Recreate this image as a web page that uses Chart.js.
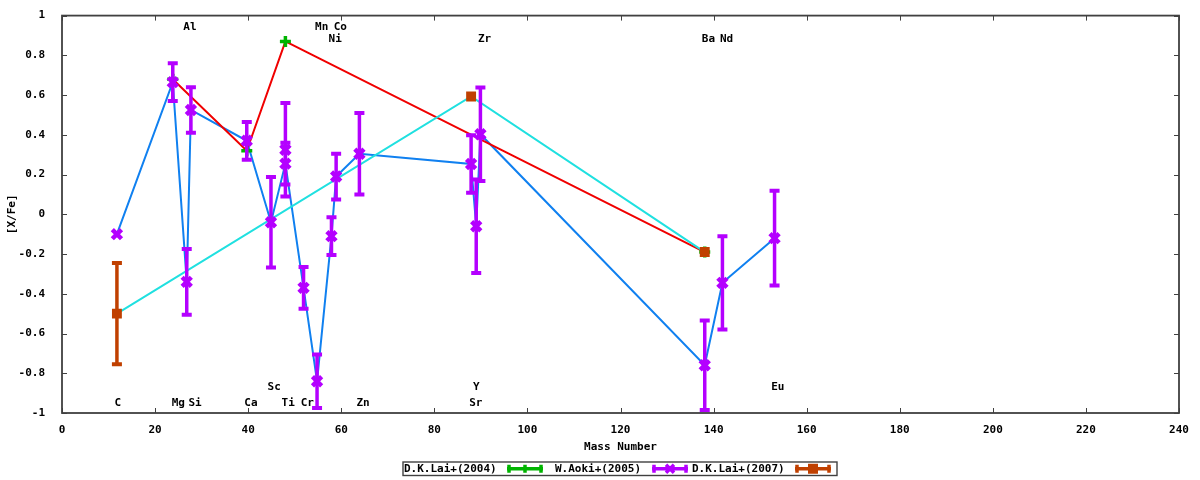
<!DOCTYPE html>
<html>
<head>
<meta charset="utf-8">
<script src="https://cdn.jsdelivr.net/npm/chart.js@4.4.1/dist/chart.umd.min.js"></script>
<style>
  html, body { margin: 0; padding: 0; background: #fff; }
  #wrap { width: 1200px; height: 480px; }
</style>
</head>
<body>
<div id="wrap"><canvas id="abund" width="1200" height="480"></canvas></div>
<script>
// W.Aoki+(2005): mass number, [X/Fe], error
const aokiMass = [11.8, 23.8, 26.8, 27.7, 39.7, 44.9, 48.0, 48.0, 51.9, 54.8, 57.9, 58.9, 63.9, 87.9, 89.0, 89.9, 138.1, 141.9, 153.1]
const aokiVal  = [-0.10, 0.665, -0.34, 0.525, 0.37, -0.04, 0.325, 0.255, -0.37, -0.84, -0.11, 0.19, 0.305, 0.253, -0.06, 0.403, -0.76, -0.345, -0.12]
const aokiErr  = [0, 0.10, 0.17, 0.12, 0.10, 0.233, 0.24, 0.11, 0.11, 0.14, 0.10, 0.12, 0.21, 0.15, 0.24, 0.24, 0.23, 0.24, 0.243]
// the blue line skips the first Ti entry
const aokiOffLine = [6]

// D.K.Lai+(2004)
const lai04Mass = [23.8, 39.7, 48.0, 138.1]
const lai04Val  = [0.68, 0.32, 0.87, -0.19]
const lai04Err  = [0, 0, 0, 0]

// D.K.Lai+(2007)
const lai07Mass = [11.8, 87.9, 138.1]
const lai07Val  = [-0.50, 0.593, -0.19]
const lai07Err  = [0.26, 0, 0]

// element labels: name, mass position, [X/Fe] position
const elemNames = ['Al', 'Mn', 'Co', 'Ni', 'Zr', 'Ba', 'Nd', 'Sc', 'Y', 'Eu', 'C', 'Mg', 'Si', 'Ca', 'Ti', 'Cr', 'Zn', 'Sr']
const elemX     = [27.5, 55.8, 59.8, 58.7, 90.8, 138.9, 142.8, 45.6, 89.0, 153.8, 12.0, 25.0, 28.6, 40.6, 48.6, 52.7, 64.7, 88.9]
const elemY     = [0.94, 0.94, 0.94, 0.88, 0.88, 0.88, 0.88, -0.87, -0.87, -0.87, -0.95, -0.95, -0.95, -0.95, -0.95, -0.95, -0.95, -0.95]

const legendNames = ['D.K.Lai+(2004)', 'W.Aoki+(2005)', 'D.K.Lai+(2007)']

const FONT = 'bold 11px "DejaVu Sans Mono", monospace'
const GREEN = '#00b400'
const PURPLE = '#b400ff'
const BROWN = '#c04000'

function pts(xs, ys) {
    return xs.map((x, i) => ({ x: x, y: ys[i] }))
}

const aokiLinePts = pts(aokiMass, aokiVal).filter((p, i) => !aokiOffLine.includes(i))

const errorBars = {
    id: 'errorBars',
    afterDatasetDraw(chart, args) {
        const ds = chart.data.datasets[args.index]
        if (!ds.errors) return
        const ctx = chart.ctx
        const xs = chart.scales.x, ys = chart.scales.y
        ctx.save()
        ctx.strokeStyle = ds.pointBorderColor
        ctx.lineCap = 'butt'
        ds.data.forEach((p, i) => {
            const e = ds.errors[i]
            if (!e) return
            const px = xs.getPixelForValue(p.x)
            const top = ys.getPixelForValue(Math.min(p.y + e, 1))
            const bot = ys.getPixelForValue(Math.max(p.y - e, -1))
            ctx.lineWidth = 3.5
            ctx.beginPath()
            ctx.moveTo(px, top); ctx.lineTo(px, bot)
            ctx.stroke()
            ctx.lineWidth = 4
            ctx.beginPath()
            ctx.moveTo(px - 5, top + 1); ctx.lineTo(px + 5, top + 1)
            ctx.moveTo(px - 5, bot - 1); ctx.lineTo(px + 5, bot - 1)
            ctx.stroke()
        })
        ctx.restore()
    }
}

const frame = {
    id: 'frame',
    afterDraw(chart) {
        const { ctx, chartArea: a } = chart
        const xs = chart.scales.x, ys = chart.scales.y
        ctx.save()
        ctx.strokeStyle = '#404040'
        ctx.lineWidth = 1
        ctx.beginPath()
        xs.ticks.forEach(t => {
            const px = Math.round(xs.getPixelForValue(t.value)) + 0.5
            ctx.moveTo(px, a.bottom); ctx.lineTo(px, a.bottom - 5)
            ctx.moveTo(px, a.top); ctx.lineTo(px, a.top + 5)
        })
        ys.ticks.forEach(t => {
            const py = Math.round(ys.getPixelForValue(t.value)) + 0.5
            ctx.moveTo(a.left, py); ctx.lineTo(a.left + 5, py)
            ctx.moveTo(a.right, py); ctx.lineTo(a.right - 5, py)
        })
        ctx.stroke()
        ctx.lineWidth = 1.8
        ctx.strokeRect(a.left, a.top, a.right - a.left, a.bottom - a.top)

        // element names
        ctx.fillStyle = '#000'
        ctx.font = FONT
        ctx.textAlign = 'center'
        ctx.textBaseline = 'middle'
        elemNames.forEach((n, i) => {
            ctx.fillText(n, xs.getPixelForValue(elemX[i]), ys.getPixelForValue(elemY[i]))
        })

        // legend box
        const bx = 403, by = 462, bw = 434, bh = 13.5
        ctx.lineWidth = 1.4
        ctx.strokeRect(bx, by, bw, bh)
        const cy = by + bh / 2
        const textX = [404, 555, 692]
        const sampleX = [507, 652, 795]
        const colors = [GREEN, PURPLE, BROWN]
        ctx.textAlign = 'left'
        legendNames.forEach((n, i) => {
            ctx.fillStyle = '#000'
            ctx.fillText(n, textX[i], cy + 0.5)
            const x0 = sampleX[i], x1 = x0 + 36, xm = (x0 + x1) / 2
            ctx.strokeStyle = colors[i]
            ctx.fillStyle = colors[i]
            ctx.lineWidth = 3.5
            ctx.beginPath()
            ctx.moveTo(x0, cy); ctx.lineTo(x1, cy)
            ctx.moveTo(x0 + 2, cy - 4); ctx.lineTo(x0 + 2, cy + 4)
            ctx.moveTo(x1 - 2, cy - 4); ctx.lineTo(x1 - 2, cy + 4)
            if (i === 0) {
                ctx.moveTo(xm, cy - 4); ctx.lineTo(xm, cy + 4)
            }
            if (i === 1) {
                ctx.moveTo(xm - 4, cy - 4); ctx.lineTo(xm + 4, cy + 4)
                ctx.moveTo(xm + 4, cy - 4); ctx.lineTo(xm - 4, cy + 4)
            }
            ctx.stroke()
            if (i === 2) ctx.fillRect(xm - 5, cy - 5, 10, 10)
        })
        ctx.restore()
    }
}

const ctx = document.getElementById('abund')

new Chart(ctx, {
    type: 'scatter',
    data: {
        datasets: [
            {
                label: 'Aoki line', data: aokiLinePts, showLine: true,
                borderColor: '#1080f0', borderWidth: 2, pointRadius: 0, order: 10
            },
            {
                label: 'Lai04 line', data: pts(lai04Mass, lai04Val), showLine: true,
                borderColor: '#f00000', borderWidth: 2, pointRadius: 0, order: 9
            },
            {
                label: 'Lai07 line', data: pts(lai07Mass, lai07Val), showLine: true,
                borderColor: '#20e0e0', borderWidth: 2, pointRadius: 0, order: 8
            },
            {
                label: legendNames[0], data: pts(lai04Mass, lai04Val), errors: lai04Err,
                pointStyle: 'cross', pointRadius: 5.5, pointBorderWidth: 3.5,
                pointBorderColor: GREEN, pointBackgroundColor: GREEN, order: 3
            },
            {
                label: legendNames[1], data: pts(aokiMass, aokiVal), errors: aokiErr,
                pointStyle: 'crossRot', pointRadius: 6.5, pointBorderWidth: 4.5,
                pointBorderColor: PURPLE, pointBackgroundColor: PURPLE, order: 2
            },
            {
                label: legendNames[2], data: pts(lai07Mass, lai07Val), errors: lai07Err,
                pointStyle: 'rect', pointRadius: 7, pointBorderWidth: 0,
                pointBorderColor: BROWN, pointBackgroundColor: BROWN, order: 1
            }
        ]
    },
    options: {
        responsive: false,
        animation: false,
        events: [],
        layout: { padding: { top: 13, right: 21, left: 0, bottom: 0 } },
        scales: {
            x: {
                type: 'linear', min: 0, max: 240,
                grid: { display: false }, border: { display: false },
                ticks: { stepSize: 20, autoSkip: false, maxRotation: 0, padding: 3, color: '#000', font: { family: '"DejaVu Sans Mono", monospace', size: 11, weight: 'bold' } },
                title: { display: true, text: 'Mass Number', color: '#000', padding: { top: 4, bottom: 26 }, font: { family: '"DejaVu Sans Mono", monospace', size: 11, weight: 'bold' } },
                afterFit(s) { s.height = 67 }
            },
            y: {
                min: -1, max: 1,
                grid: { display: false }, border: { display: false },
                ticks: {
                    stepSize: 0.2, autoSkip: false, padding: 9, color: '#000',
                    font: { family: '"DejaVu Sans Mono", monospace', size: 11, weight: 'bold' },
                    callback: v => String(Math.round(v * 10) / 10)
                },
                title: { display: true, text: '[X/Fe]', color: '#000', padding: { top: 6, bottom: 0 }, font: { family: '"DejaVu Sans Mono", monospace', size: 11, weight: 'bold' } },
                afterFit(s) { s.width = 62 }
            }
        },
        plugins: { legend: { display: false }, tooltip: { enabled: false } }
    },
    plugins: [errorBars, frame]
})
</script>
</body>
</html>
